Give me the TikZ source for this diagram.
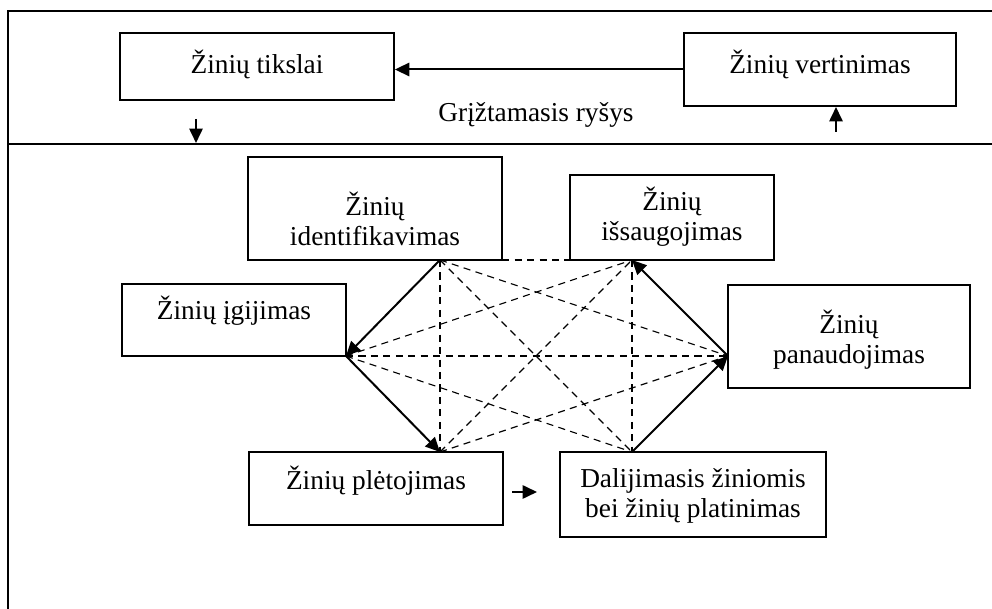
\documentclass[tikz,border=0pt]{standalone}
\usepackage{fontspec}
\setmainfont{Liberation Serif}
\usetikzlibrary{arrows.meta}

\begin{document}
\begin{tikzpicture}
  [x=0.45pt,y=-0.45pt,
   every node/.style={font=\fontsize{12.3pt}{13.5pt}\selectfont,align=center,inner sep=0pt},
   box/.style={draw,line width=0.8pt,rectangle},
   frame/.style={line width=0.9pt},
   arr/.style={line width=0.9pt,-{Triangle[length=6.5pt,width=6pt]}},
   dashline/.style={line width=0.5pt,dash pattern=on 3.2pt off 2.4pt}]

  \useasboundingbox (0,0) rectangle (992,609);

  % outer frame
  \draw[frame] (992,11) -- (8,11) -- (8,609);
  \draw[frame] (8,144) -- (992,144);

  % boxes
  \node[box,minimum width=123.3pt,minimum height=30.2pt] (tiksl) at (257,66.5) {};
  \node[box,minimum width=122.4pt,minimum height=32.9pt] (vert)  at (820,69.5) {};
  \node[box,minimum width=114.3pt,minimum height=46.4pt] (ident) at (375,208.5) {};
  \node[box,minimum width=91.8pt, minimum height=38.3pt] (issaug) at (672,217.5) {};
  \node[box,minimum width=100.8pt,minimum height=32.4pt] (igij)  at (234,320) {};
  \node[box,minimum width=108.9pt,minimum height=46.4pt] (panaud) at (849,336.5) {};
  \node[box,minimum width=114.3pt,minimum height=32.9pt] (pletoj) at (376,488.5) {};
  \node[box,minimum width=119.7pt,minimum height=38.3pt] (dalij) at (693,494.5) {};

  % texts
  \node (tikslT)  at (257,64)  {Žinių tikslai};
  \node (vertT)   at (820,64)  {Žinių vertinimas};
  \node (identT)  at (375,219) {Žinių\\identifikavimas};
  \node (issaugT) at (672,217) {Žinių\\išsaugojimas};
  \node (igijT)   at (234,311) {Žinių įgijimas};
  \node (panaudT) at (849,340) {Žinių\\panaudojimas};
  \node (pletojT) at (376,481) {Žinių plėtojimas};
  \node (dalijT)  at (693,496) {Dalijimasis žiniomis\\bei žinių platinimas};
  \node (fb)      at (536,115) {Grįžtamasis ryšys};

  % feedback arrows
  \draw[arr] (vert.west) -- (vert.west -| tiksl.east);
  \coordinate (dn1) at (196,119);
  \coordinate (dn2) at (196,143);
  \coordinate (up1) at (836,132);
  \coordinate (up2) at (836,107);
  \coordinate (r1) at (512,492);
  \coordinate (r2) at (537,492);
  \draw[arr] (dn1) -- (dn2);
  \draw[arr] (up1) -- (up2);
  \draw[arr] (r1) -- (r2);

  % hexagon corners
  \coordinate (a) at (440,260);
  \coordinate (d) at (632,260);
  \coordinate (b) at (346,356);
  \coordinate (e) at (728,356);
  \coordinate (c) at (440,452);
  \coordinate (f) at (632,452);

\foreach \from/\to in {a/d,a/c,d/f,b/e,a/e,a/f,b/d,b/f,c/d,c/e}
    \draw[dashline] (\from) -- (\to);

\foreach \from/\to in {a/b,b/c,f/e,e/d}
    \draw[arr] (\from) -- (\to);

\end{tikzpicture}
\end{document}
